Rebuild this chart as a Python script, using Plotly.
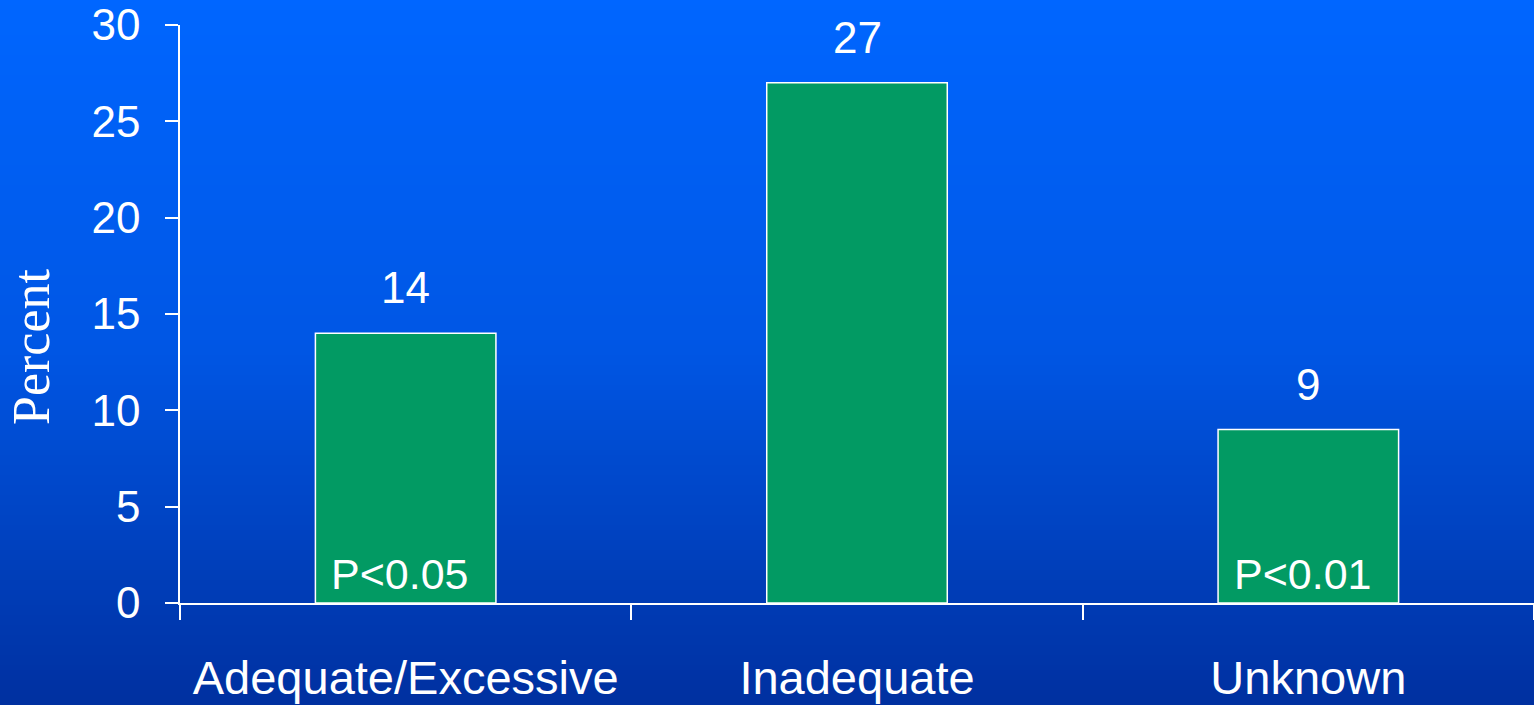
import plotly.graph_objects as go

categories = ["Adequate/Excessive", "Inadequate", "Unknown"]
percent = [14, 27, 9]
value_labels = ["14", "27", "9"]
p_labels = ["P<0.05", "", "P<0.01"]
y_ticks = [0, 5, 10, 15, 20, 25, 30]

W, H = 1534, 705
ML, MR, MT, MB = 180, 0, 25, 102
PW, PH = W - ML - MR, H - MT - MB

fig = go.Figure()
fig.add_trace(go.Bar(
    x=categories, y=percent, width=0.4,
    marker=dict(color="#029A63", line=dict(color="white", width=1.5)),
    hoverinfo="skip",
))

# value labels above bars
for c, v, t in zip(categories, percent, value_labels):
    fig.add_annotation(x=c, y=v, text=t, showarrow=False, yanchor="bottom",
                       yshift=19, font=dict(family="Liberation Sans", size=44, color="white"))
# p-value labels inside bars
for c, t in zip(categories, p_labels):
    if t:
        fig.add_annotation(x=c, y=0, text=t, showarrow=False, yanchor="bottom",
                           yshift=3, xshift=-6,
                           font=dict(family="Liberation Sans", size=43, color="white"))

# y axis title
fig.add_annotation(xref="paper", yref="paper", x=(31 - ML) / PW, y=(H - MB - 347) / PH,
                   text="Percent", textangle=-90, showarrow=False,
                   xanchor="center", yanchor="middle",
                   font=dict(family="Liberation Serif", size=52, color="white"))

# vertical gradient background
def lerp(a, b, t):
    return tuple(round(a[i] + (b[i] - a[i]) * t) for i in range(3))

stops = [(0, (0, 102, 255)), (350, (0, 86, 228)), (705, (0, 48, 160))]
strip = 5
shapes = []
for y0 in range(0, H, strip):
    yc = y0 + strip / 2
    for (ya, ca), (yb, cb) in zip(stops[:-1], stops[1:]):
        if ya <= yc <= yb:
            col = lerp(ca, cb, (yc - ya) / (yb - ya))
            break
    shapes.append(dict(
        type="rect", xref="paper", yref="paper", layer="below",
        x0=-ML / PW, x1=1 + MR / PW,
        y0=(H - MB - (y0 + strip)) / PH, y1=(H - MB - y0) / PH,
        fillcolor="rgb(%d,%d,%d)" % col, line=dict(width=0),
    ))

fig.update_layout(
    width=W, height=H,
    margin=dict(l=ML, r=MR, t=MT, b=MB),
    paper_bgcolor="#0050E0", plot_bgcolor="rgba(0,0,0,0)",
    shapes=shapes,
    showlegend=False,
    xaxis=dict(
        type="category", range=[-0.5, 2.5], tickson="boundaries",
        ticks="outside", ticklen=15, tickwidth=1.5, tickcolor="white",
        showline=True, linecolor="white", linewidth=1.5, showgrid=False,
        tickfont=dict(family="Liberation Sans", size=47, color="white"),
        ticklabelstandoff=33, ticklabeloverflow="allow",
    ),
    yaxis=dict(
        range=[0, 30], tickvals=y_ticks, ticktext=[str(v) for v in y_ticks],
        ticks="outside", ticklen=13, tickwidth=1.5, tickcolor="white",
        showline=True, linecolor="white", linewidth=1.5, showgrid=False, zeroline=False,
        tickfont=dict(family="Liberation Sans", size=44, color="white"),
        ticklabelstandoff=16, ticklabeloverflow="allow",
    ),
)

fig.write_html("out.html", config={"displayModeBar": False})
